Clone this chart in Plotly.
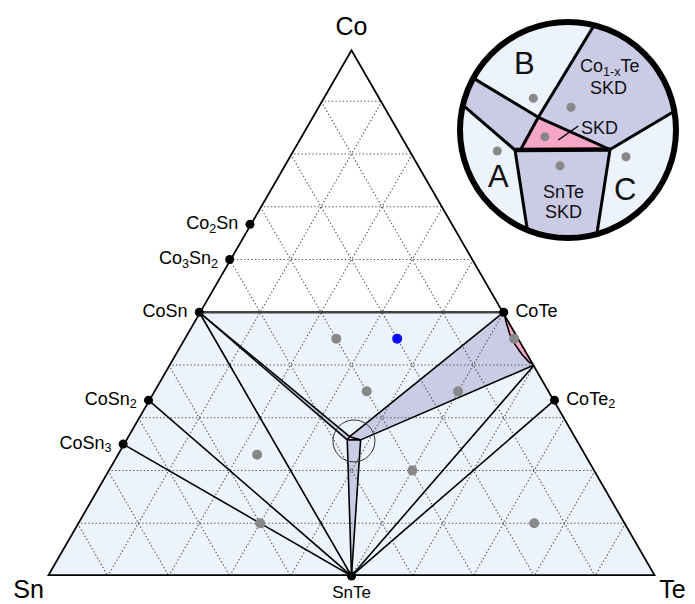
import numpy as np
import plotly.graph_objects as go

# ---------------- main Co-Sn-Te diagram (fractions: Co, Sn, Te) ----------------
compound_names = ["Co<sub>2</sub>Sn", "Co<sub>3</sub>Sn<sub>2</sub>", "CoSn", "CoSn<sub>2</sub>",
                  "CoSn<sub>3</sub>", "CoTe", "CoTe<sub>2</sub>", "SnTe"]
compound_keys = ["Co2Sn", "Co3Sn2", "CoSn", "CoSn2", "CoSn3", "CoTe", "CoTe2", "SnTe"]
compound_co = [2 / 3, 0.6, 0.5, 1 / 3, 0.25, 0.5, 1 / 3, 0.0]
compound_sn = [1 / 3, 0.4, 0.5, 2 / 3, 0.75, 0.0, 0.0, 0.5]
compound_te = [0.0, 0.0, 0.0, 0.0, 0.0, 0.5, 2 / 3, 0.5]
compound_textpos = ["middle left"] * 5 + ["middle right"] * 2 + ["bottom center"]

# corners of the small central three-phase triangle (top, left, right) and the Te-rich edge point
node_keys = ["P1", "PL", "PR", "Q", "Sn", "Te", "Co"]
node_co = [0.264, 0.258, 0.258, 0.40, 0.0, 0.0, 1.0]
node_sn = [0.371, 0.378, 0.356, 0.00, 1.0, 0.0, 0.0]
node_te = [0.365, 0.364, 0.386, 0.60, 0.0, 1.0, 0.0]

# boundary of the Co1-xTe homogeneity range (CoTe -> Q)
curve_co = [0.5, 0.479, 0.458, 0.438, 0.42, 0.406, 0.40]
curve_sn = [0.0, 0.006, 0.011, 0.012, 0.010, 0.006, 0.0]
curve_te = [0.5, 0.515, 0.531, 0.550, 0.570, 0.588, 0.60]

# tie lines between phases
tie_lines = [("CoSn", "SnTe"), ("CoSn2", "SnTe"), ("CoSn3", "SnTe"), ("CoSn", "P1"), ("CoSn", "PL"),
             ("P1", "CoTe"), ("PR", "Q"), ("Q", "SnTe"), ("CoTe2", "SnTe"), ("PL", "SnTe"),
             ("PR", "SnTe"), ("P1", "PL"), ("PL", "PR"), ("PR", "P1")]

# measured sample compositions
sample_co = [0.45, 0.35, 0.35, 0.45, 0.23, 0.20, 0.10, 0.10]
sample_sn = [0.30, 0.30, 0.15, 0.008, 0.54, 0.30, 0.60, 0.15]
sample_te = [0.25, 0.35, 0.50, 0.542, 0.23, 0.50, 0.30, 0.75]
highlight_co, highlight_sn, highlight_te = [0.45], [0.20], [0.35]

grid_steps = [0.1, 0.2, 0.3, 0.4, 0.5, 0.6, 0.7, 0.8, 0.9]

corner_names = ["Co", "Sn", "Te"]

# ---------------- magnified view of the central junction (local units) ----------------
inset_pts = {"J1": (-29.7, 12.7), "TL": (-53.0, -20.0), "PKL": (-47.0, -19.0), "TR": (42.0, -19.5)}
inset_angles = {"B1": 76.0, "U1": 151.3, "U2": 166.7, "S1": 247.9, "S2": 285.5, "C1": 10.0}
inset_regions = [  # (name, arc start, arc end, interior path, colour key)
    ("B", "B1", "U1", ["J1"], "blue"),
    ("strip", "U1", "U2", ["TL", "PKL", "J1"], "lav"),
    ("A", "U2", "S1", ["TL"], "blue"),
    ("SnTe SKD", "S1", "S2", ["TR", "TL"], "lav"),
    ("C", "S2", "C1", ["TR"], "blue"),
    ("Co1-xTe SKD", "C1", "B1", ["J1", "TR"], "lav"),
]
inset_pink = ["J1", "PKL", "TR"]
inset_lines = [("B1", "J1"), ("U1", "J1"), ("J1", "TR"), ("U2", "TL"), ("J1", "PKL"),
               ("TL", "S1"), ("TR", "S2"), ("TR", "C1")]
inset_dots_x = [-34.7, 3.0, -23.0, -70.7, 58.0, -8.0]
inset_dots_y = [31.7, 22.7, -6.7, -21.0, -26.7, -35.7]

# ---------------- styling ----------------
W, H = 695, 604
FONT = "Liberation Sans, Arial, sans-serif"
LIGHT_BLUE = "#edf3fd"
LAVENDER = "#cbcbe6"
PINK = "#f6a6c6"
GRAY_DOT = "#888888"
R_CIRCLE = 108

pts = {k: (a, b, c) for k, a, b, c in zip(compound_keys, compound_co, compound_sn, compound_te)}
pts.update({k: (a, b, c) for k, a, b, c in zip(node_keys, node_co, node_sn, node_te)})
curve = list(zip(curve_co, curve_sn, curve_te))


def tern_poly(seq):
    a, b, c = zip(*seq)
    return list(a), list(b), list(c)


fig = go.Figure()


def add_fill(seq, color):
    a, b, c = tern_poly(seq)
    fig.add_trace(go.Scatterternary(a=a, b=b, c=c, mode="lines", fill="toself", fillcolor=color,
                                    line=dict(width=0, color=color), hoverinfo="skip",
                                    showlegend=False, cliponaxis=False))


# regions
add_fill([pts["Sn"], pts["Te"], pts["CoTe"], pts["CoSn"]], LIGHT_BLUE)
add_fill(curve + [pts["CoTe"]], PINK)
add_fill([pts["P1"]] + curve + [pts["PR"]], LAVENDER)
add_fill([pts["PL"], pts["PR"], pts["SnTe"]], LAVENDER)
add_fill([pts["CoSn"], pts["P1"], pts["PL"]], LAVENDER)
add_fill([pts["P1"], pts["PL"], pts["PR"]], PINK)

# dotted composition grid
ga, gb, gc = [], [], []
for v in grid_steps:
    for s, e in [((v, 1 - v, 0), (v, 0, 1 - v)), ((1 - v, v, 0), (0, v, 1 - v)), ((1 - v, 0, v), (0, 1 - v, v))]:
        ga += [s[0], e[0], None]
        gb += [s[1], e[1], None]
        gc += [s[2], e[2], None]
fig.add_trace(go.Scatterternary(a=ga, b=gb, c=gc, mode="lines",
                                line=dict(color="#555555", width=1.1, dash="1.4px,2.2px"),
                                hoverinfo="skip", showlegend=False))

# tie lines
ta, tb, tc = [], [], []
for p, q in tie_lines:
    ta += [pts[p][0], pts[q][0], None]
    tb += [pts[p][1], pts[q][1], None]
    tc += [pts[p][2], pts[q][2], None]
fig.add_trace(go.Scatterternary(a=ta, b=tb, c=tc, mode="lines", line=dict(color="black", width=1.6),
                                hoverinfo="skip", showlegend=False, cliponaxis=False))
ca, cb, cc = tern_poly(curve)
fig.add_trace(go.Scatterternary(a=ca, b=cb, c=cc, mode="lines", line=dict(color="black", width=1.6),
                                hoverinfo="skip", showlegend=False, cliponaxis=False))

# CoSn - CoTe line
la, lb, lc = tern_poly([pts["CoSn"], pts["CoTe"]])
fig.add_trace(go.Scatterternary(a=la, b=lb, c=lc, mode="lines", line=dict(color="#444444", width=2.4),
                                hoverinfo="skip", showlegend=False, cliponaxis=False))

# triangle outline
oa, ob, oc = tern_poly([pts["CoSn"], pts["Sn"], pts["Te"], pts["Co"], pts["CoSn"]])
fig.add_trace(go.Scatterternary(a=oa, b=ob, c=oc, mode="lines", line=dict(color="black", width=3.5),
                                hoverinfo="skip", showlegend=False, cliponaxis=False))

# magnified region marker
ma, mb, mc = [0.256], [0.368], [0.376]
fig.add_trace(go.Scatterternary(a=ma, b=mb, c=mc, mode="markers",
                                marker=dict(symbol="circle-open", size=42, color="#333333",
                                            line=dict(width=1, color="#333333")),
                                hoverinfo="skip", showlegend=False, cliponaxis=False))

# samples
fig.add_trace(go.Scatterternary(a=sample_co, b=sample_sn, c=sample_te, mode="markers",
                                marker=dict(size=10, color=GRAY_DOT), hoverinfo="skip",
                                showlegend=False, cliponaxis=False))
fig.add_trace(go.Scatterternary(a=highlight_co, b=highlight_sn, c=highlight_te, mode="markers",
                                marker=dict(size=10, color="#0a0aff"), hoverinfo="skip",
                                showlegend=False, cliponaxis=False))

# compounds
fig.add_trace(go.Scatterternary(a=compound_co, b=compound_sn, c=compound_te, mode="markers",
                                marker=dict(size=9, color="black"), hoverinfo="skip",
                                showlegend=False, cliponaxis=False))
fig.add_trace(go.Scatterternary(a=compound_co[:-1], b=compound_sn[:-1], c=compound_te[:-1],
                                mode="markers+text", text=compound_names[:-1],
                                textposition=compound_textpos[:-1],
                                textfont=dict(family=FONT, size=18, color="black"),
                                marker=dict(size=17, opacity=0), hoverinfo="skip",
                                showlegend=False, cliponaxis=False))
fig.add_trace(go.Scatterternary(a=compound_co[-1:], b=compound_sn[-1:], c=compound_te[-1:],
                                mode="markers+text", text=compound_names[-1:],
                                textposition=compound_textpos[-1:],
                                textfont=dict(family=FONT, size=17, color="black"),
                                marker=dict(size=13, opacity=0), hoverinfo="skip",
                                showlegend=False, cliponaxis=False))

# corner element labels
fig.add_trace(go.Scatterternary(a=[1, 0, 0], b=[0, 1, 0], c=[0, 0, 1], mode="markers+text",
                                text=corner_names,
                                textposition=["top center", "bottom left", "bottom right"],
                                textfont=dict(family=FONT, size=25, color="black"),
                                marker=dict(size=[10.8, 3.5, 3.5], opacity=0), hoverinfo="skip",
                                showlegend=False, cliponaxis=False))

# ---------------- magnified view ----------------
def ang_xy(name):
    t = np.radians(inset_angles[name])
    return R_CIRCLE * np.cos(t), R_CIRCLE * np.sin(t)


def inset_xy(name):
    return inset_pts[name] if name in inset_pts else ang_xy(name)


colors = {"blue": LIGHT_BLUE, "lav": LAVENDER}
for name, s, e, path, ck in inset_regions:
    t0, t1 = inset_angles[s], inset_angles[e]
    if t1 < t0:
        t1 += 360.0
    t = np.radians(np.linspace(t0, t1, 60))
    xs = list(R_CIRCLE * np.cos(t)) + [inset_pts[p][0] for p in path]
    ys = list(R_CIRCLE * np.sin(t)) + [inset_pts[p][1] for p in path]
    fig.add_trace(go.Scatter(x=xs, y=ys, mode="lines", fill="toself", fillcolor=colors[ck],
                             line=dict(width=0, color=colors[ck]), hoverinfo="skip",
                             showlegend=False, xaxis="x", yaxis="y"))
fig.add_trace(go.Scatter(x=[inset_pts[p][0] for p in inset_pink], y=[inset_pts[p][1] for p in inset_pink],
                         mode="lines", fill="toself", fillcolor=PINK, line=dict(width=0, color=PINK),
                         hoverinfo="skip", showlegend=False))

lx, ly = [], []
for p, q in inset_lines:
    (x0, y0), (x1, y1) = inset_xy(p), inset_xy(q)
    lx += [x0, x1, None]
    ly += [y0, y1, None]
fig.add_trace(go.Scatter(x=lx, y=ly, mode="lines", line=dict(color="black", width=3),
                         hoverinfo="skip", showlegend=False))
fig.add_trace(go.Scatter(x=[inset_pts["TL"][0], inset_pts["TR"][0]],
                         y=[inset_pts["TL"][1], inset_pts["TR"][1]], mode="lines",
                         line=dict(color="black", width=4.5), hoverinfo="skip", showlegend=False))
fig.add_trace(go.Scatter(x=[-9.7, 10.3], y=[-10.0, 4.0], mode="lines",
                         line=dict(color="black", width=1.5), hoverinfo="skip", showlegend=False))
fig.add_trace(go.Scatter(x=inset_dots_x, y=inset_dots_y, mode="markers",
                         marker=dict(size=9, color=GRAY_DOT), hoverinfo="skip", showlegend=False))

inset_labels = [
    ("B", -44, 66, 31, "center"), ("A", -69.7, -46.7, 31, "center"), ("C", 57, -60, 31, "center"),
    ("Co<sub>1-x</sub>Te", 42, 62, 18, "center"), ("SKD", 40.3, 41.7, 18, "center"),
    ("SKD", 11, 1.7, 18, "left"), ("SnTe", -4.7, -62.0, 18, "center"), ("SKD", -4.7, -82.0, 18, "center"),
]
annotations = []
for txt, x, y, sz, anchor in inset_labels:
    annotations.append(dict(text=txt, x=x, y=y, xref="x", yref="y", showarrow=False,
                            xanchor=anchor, yanchor="middle",
                            font=dict(family=FONT, size=sz, color="#111111")))

axis_common = dict(visible=False, showgrid=False, zeroline=False, fixedrange=True)
fig.update_layout(
    width=W, height=H,
    margin=dict(l=0, r=0, t=0, b=0, pad=0),
    paper_bgcolor="white", plot_bgcolor="rgba(0,0,0,0)",
    font=dict(family=FONT),
    ternary=dict(
        sum=1,
        domain=dict(x=[47 / W, 656 / W], y=[28 / H, 555.5 / H]),
        bgcolor="rgba(0,0,0,0)",
        aaxis=dict(min=0, showline=False, showgrid=False, showticklabels=False, ticks="", title=dict(text="")),
        baxis=dict(min=0, showline=False, showgrid=False, showticklabels=False, ticks="", title=dict(text="")),
        caxis=dict(min=0, showline=False, showgrid=False, showticklabels=False, ticks="", title=dict(text="")),
    ),
    xaxis=dict(domain=[450 / W, 690 / W], range=[-118, 122], **axis_common),
    yaxis=dict(domain=[354 / H, 594 / H], range=[-120, 120], **axis_common),
    shapes=[dict(type="circle", xref="x", yref="y", x0=-R_CIRCLE, x1=R_CIRCLE, y0=-R_CIRCLE, y1=R_CIRCLE,
                 line=dict(color="black", width=6), layer="above")],
    annotations=annotations,
)

fig.write_html("out.html")
